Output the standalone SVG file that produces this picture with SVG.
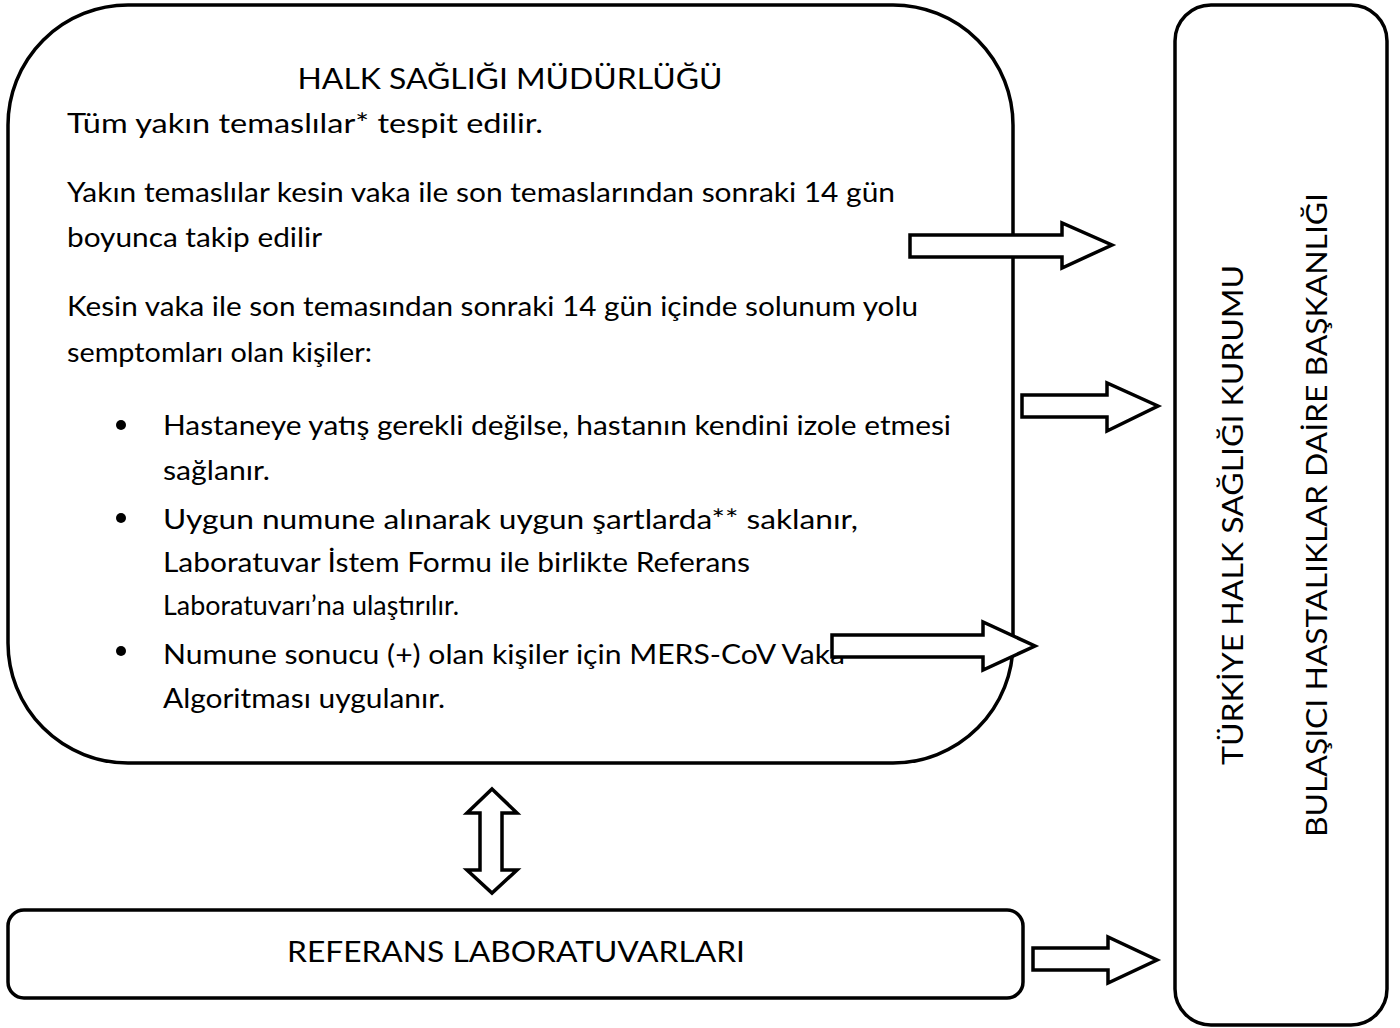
<svg xmlns="http://www.w3.org/2000/svg" width="1400" height="1028" viewBox="0 0 1400 1028">
<style>
.box{fill:#fff;stroke:#000;stroke-width:3.5}
.arr{fill:#fff;stroke:#000;stroke-width:3.5;stroke-linejoin:miter}
text{font-family:Lato,"Liberation Sans",Arial,sans-serif;font-size:27px;fill:#000}
.c{text-anchor:middle}
</style>
<rect width="1400" height="1028" fill="#fff"/>
<g id="halk-sagligi">
<rect class="box" x="8" y="5" width="1005" height="758" rx="120" ry="120"/>
<text class="c" x="510" y="89" style="font-size:28px" textLength="425" lengthAdjust="spacingAndGlyphs">HALK SAĞLIĞI MÜDÜRLÜĞÜ</text>
<text x="67" y="133" textLength="476" lengthAdjust="spacingAndGlyphs">Tüm yakın temaslılar* tespit edilir.</text>
<text x="67" y="202" textLength="828" lengthAdjust="spacingAndGlyphs">Yakın temaslılar kesin vaka ile son temaslarından sonraki 14 gün</text>
<text x="67" y="247" textLength="255" lengthAdjust="spacingAndGlyphs">boyunca takip edilir</text>
<text x="67" y="316" textLength="851" lengthAdjust="spacingAndGlyphs">Kesin vaka ile son temasından sonraki 14 gün içinde solunum yolu</text>
<text x="67" y="362" textLength="305" lengthAdjust="spacingAndGlyphs">semptomları olan kişiler:</text>
<circle cx="121" cy="425" r="5"/>
<circle cx="121" cy="518" r="5"/>
<circle cx="121" cy="651" r="5"/>
<text x="163" y="435" textLength="788" lengthAdjust="spacingAndGlyphs">Hastaneye yatış gerekli değilse, hastanın kendini izole etmesi</text>
<text x="163" y="480" textLength="107" lengthAdjust="spacingAndGlyphs">sağlanır.</text>
<text x="163" y="529" textLength="695" lengthAdjust="spacingAndGlyphs">Uygun numune alınarak uygun şartlarda** saklanır,</text>
<text x="163" y="572" textLength="587" lengthAdjust="spacingAndGlyphs">Laboratuvar İstem Formu ile birlikte Referans</text>
<text x="163" y="615" textLength="296" lengthAdjust="spacingAndGlyphs">Laboratuvarı’na ulaştırılır.</text>
<text x="163" y="664" textLength="682" lengthAdjust="spacingAndGlyphs">Numune sonucu (+) olan kişiler için MERS-CoV Vaka</text>
<text x="163" y="708" textLength="282" lengthAdjust="spacingAndGlyphs">Algoritması uygulanır.</text>
</g>
<g id="referans-lab">
<rect class="box" x="8" y="910" width="1015" height="88" rx="16" ry="16"/>
<text class="c" x="516" y="962" style="font-size:28px" textLength="458" lengthAdjust="spacingAndGlyphs">REFERANS LABORATUVARLARI</text>
</g>
<g id="thsk">
<rect class="box" x="1175" y="5" width="212" height="1020" rx="36" ry="36"/>
<text class="c" transform="translate(1243,515) rotate(-90)" style="font-size:28px" textLength="500" lengthAdjust="spacingAndGlyphs">TÜRKİYE HALK SAĞLIĞI KURUMU</text>
<text class="c" transform="translate(1327,515) rotate(-90)" style="font-size:28px" textLength="644" lengthAdjust="spacingAndGlyphs">BULAŞICI HASTALIKLAR DAİRE BAŞKANLIĞI</text>
</g>
<g id="connectors">
<polygon class="arr" points="910,235 1062,235 1062,223 1112,245 1062,268 1062,257 910,257"/>
<polygon class="arr" points="1022,395 1107,395 1107,383 1158,406 1107,431 1107,417 1022,417"/>
<polygon class="arr" points="832,635 983,635 983,622 1035,646 983,670 983,657 832,657"/>
<polygon class="arr" points="1033,948 1108,948 1108,937 1157,960 1108,983 1108,970 1033,970"/>
<polygon class="arr" points="492,789 517,813 502,813 502,870 517,870 492,893 467,870 480,870 480,813 467,813"/>
</g>
</svg>
